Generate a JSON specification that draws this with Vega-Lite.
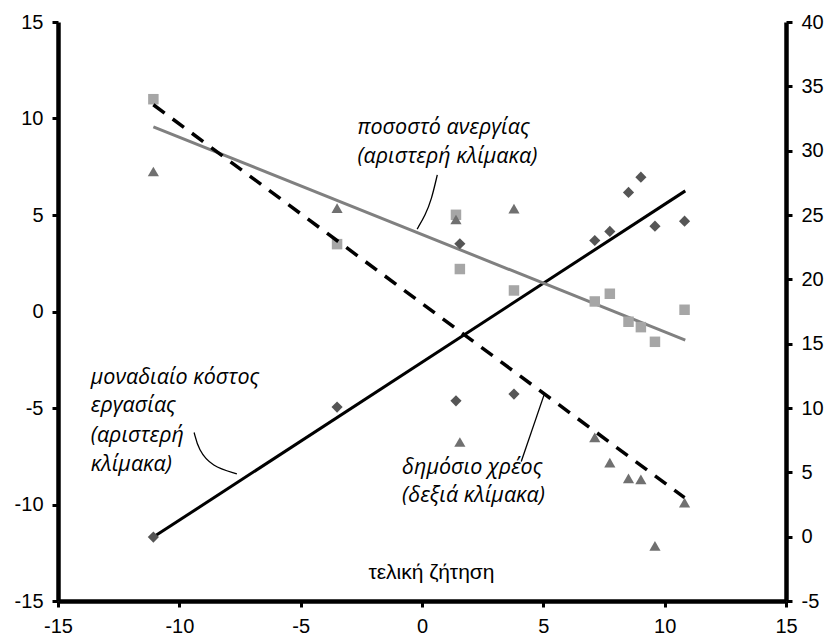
{
  "$schema": "https://vega.github.io/schema/vega-lite/v6.json",
  "width": 728,
  "height": 579,
  "autosize": {"type": "none"},
  "padding": {"left": 58, "top": 22, "right": 41, "bottom": 37},
  "background": "white",
  "config": {
    "view": {"stroke": null},
    "axis": {
      "grid": false,
      "title": null,
      "domainColor": "black",
      "domainWidth": 4.5,
      "tickColor": "black",
      "tickWidth": 3,
      "tickSize": 6,
      "labelFont": "Liberation Sans",
      "labelFontSize": 20,
      "labelColor": "black",
      "labelPadding": 9,
      "labelFlush": false,
      "labelOverlap": false,
      "labelExpr": "replace(datum.label, '−', '-')"
    }
  },
  "datasets": {
    "pts": [
      {"x": -11.07, "ulc": -11.69, "unemp": 11.0, "debt": 28.38},
      {"x": -3.5, "ulc": -4.95, "unemp": 3.49, "debt": 25.54},
      {"x": 1.4, "ulc": -4.63, "unemp": 5.01, "debt": 24.65},
      {"x": 1.56, "ulc": 3.51, "unemp": 2.2, "debt": 7.36},
      {"x": 3.79, "ulc": -4.28, "unemp": 1.09, "debt": 25.49},
      {"x": 7.12, "ulc": 3.68, "unemp": 0.52, "debt": 7.72},
      {"x": 7.74, "ulc": 4.15, "unemp": 0.92, "debt": 5.75},
      {"x": 8.51, "ulc": 6.17, "unemp": -0.53, "debt": 4.53},
      {"x": 9.02, "ulc": 6.96, "unemp": -0.81, "debt": 4.45},
      {"x": 9.6, "ulc": 4.42, "unemp": -1.57, "debt": -0.72},
      {"x": 10.82, "ulc": 4.68, "unemp": 0.09, "debt": 2.64}
    ],
    "trendL": [
      {"g": "ulc", "x": -11.07, "y": -11.69},
      {"g": "ulc", "x": 10.85, "y": 6.25},
      {"g": "unemp", "x": -11.07, "y": 9.57},
      {"g": "unemp", "x": 10.85, "y": -1.48}
    ],
    "trendR": [
      {"x": -11.07, "y": 33.57},
      {"x": 10.82, "y": 3.03}
    ],
    "leaders": [
      {"g": "a", "o": 1, "x": 0.63, "y": 7.08},
      {"g": "a", "o": 2, "x": 0.39, "y": 5.79},
      {"g": "a", "o": 3, "x": 0.14, "y": 5.01},
      {"g": "a", "o": 4, "x": -0.2, "y": 4.27},
      {"g": "b", "o": 1, "x": -9.39, "y": -6.27},
      {"g": "b", "o": 2, "x": -9.21, "y": -7.17},
      {"g": "b", "o": 3, "x": -8.66, "y": -8.03},
      {"g": "b", "o": 4, "x": -7.63, "y": -8.41},
      {"g": "c", "o": 1, "x": 5.03, "y": -4.32},
      {"g": "c", "o": 2, "x": 4.09, "y": -7.77}
    ],
    "labels": [
      {"t": "ποσοστό ανεργίας", "x": -2.66, "y": 9.53},
      {"t": "(αριστερή κλίμακα)", "x": -2.66, "y": 8.03},
      {"t": "μοναδιαίο κόστος", "x": -13.65, "y": -3.44},
      {"t": "εργασίας", "x": -13.65, "y": -4.9},
      {"t": "(αριστερή", "x": -13.65, "y": -6.46},
      {"t": "κλίμακα)", "x": -13.65, "y": -7.93},
      {"t": "δημόσιο χρέος", "x": -0.82, "y": -8.1},
      {"t": "(δεξιά κλίμακα)", "x": -0.82, "y": -9.56}
    ],
    "xlab": [
      {"t": "τελική ζήτηση", "x": 0.39, "y": -13.54}
    ]
  },
  "layer": [
    {
      "layer": [
        {
          "data": {"name": "trendL"},
          "mark": {"type": "line", "strokeWidth": 3},
          "encoding": {
            "x": {"field": "x", "type": "quantitative", "scale": {"domain": [-15, 15], "nice": false, "zero": false}, "axis": {"values": [-15, -10, -5, 0, 5, 10, 15]}},
            "y": {"field": "y", "type": "quantitative", "scale": {"domain": [-15, 15], "nice": false, "zero": false}, "axis": {"orient": "left", "values": [-15, -10, -5, 0, 5, 10, 15]}},
            "detail": {"field": "g"},
            "color": {"field": "g", "type": "nominal", "scale": {"domain": ["ulc", "unemp"], "range": ["#000000", "#808080"]}, "legend": null}
          }
        },
        {
          "data": {"name": "pts"},
          "mark": {"type": "point", "shape": "diamond", "filled": true, "opacity": 1, "size": 125, "color": "#555555"},
          "encoding": {
            "x": {"field": "x", "type": "quantitative"},
            "y": {"field": "ulc", "type": "quantitative"}
          }
        },
        {
          "data": {"name": "pts"},
          "mark": {"type": "point", "shape": "square", "filled": true, "opacity": 1, "size": 110, "color": "#a6a6a6"},
          "encoding": {
            "x": {"field": "x", "type": "quantitative"},
            "y": {"field": "unemp", "type": "quantitative"}
          }
        },
        {
          "data": {"name": "leaders"},
          "mark": {"type": "line", "strokeWidth": 1.3, "color": "black", "interpolate": "basis"},
          "encoding": {
            "x": {"field": "x", "type": "quantitative"},
            "y": {"field": "y", "type": "quantitative"},
            "detail": {"field": "g"},
            "order": {"field": "o", "type": "quantitative"}
          }
        },
        {
          "data": {"name": "labels"},
          "mark": {"type": "text", "align": "left", "baseline": "middle", "font": "Open Sans", "fontStyle": "italic", "fontSize": 21.5, "color": "black"},
          "encoding": {
            "x": {"field": "x", "type": "quantitative"},
            "y": {"field": "y", "type": "quantitative"},
            "text": {"field": "t"}
          }
        },
        {
          "data": {"name": "xlab"},
          "mark": {"type": "text", "align": "center", "baseline": "middle", "font": "Liberation Sans", "fontSize": 21, "color": "black"},
          "encoding": {
            "x": {"field": "x", "type": "quantitative"},
            "y": {"field": "y", "type": "quantitative"},
            "text": {"field": "t"}
          }
        }
      ]
    },
    {
      "layer": [
        {
          "data": {"name": "trendR"},
          "mark": {"type": "line", "strokeWidth": 3.5, "color": "black", "strokeDash": [14, 10]},
          "encoding": {
            "x": {"field": "x", "type": "quantitative"},
            "y": {"field": "y", "type": "quantitative", "scale": {"domain": [-5, 40], "nice": false, "zero": false}, "axis": {"orient": "right", "values": [-5, 0, 5, 10, 15, 20, 25, 30, 35, 40]}}
          }
        },
        {
          "data": {"name": "pts"},
          "mark": {"type": "point", "shape": "triangle-up", "filled": true, "opacity": 1, "size": 125, "color": "#707070"},
          "encoding": {
            "x": {"field": "x", "type": "quantitative"},
            "y": {"field": "debt", "type": "quantitative"}
          }
        }
      ]
    }
  ],
  "resolve": {"scale": {"y": "independent"}, "axis": {"y": "independent"}}
}
